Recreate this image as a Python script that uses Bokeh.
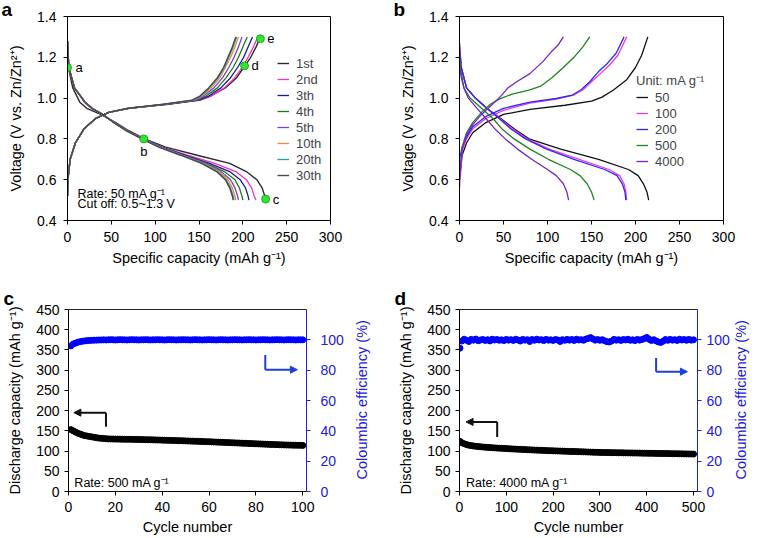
import math
from bokeh.plotting import figure
from bokeh.models import (Range1d, LinearAxis, Legend, LegendItem, Label, Arrow,
                          NormalHead, FixedTicker, Title, PrintfTickFormatter)
from bokeh.layouts import column, row
from bokeh.embed import file_html
from bokeh.resources import INLINE

FONT = "Liberation Sans"

# ---------------- Panel a data ----------------
cycles_a = ["1st", "2nd", "3th", "4th", "5th", "10th", "20th", "30th"]
colors_a = ["#2b2b2b", "#f032c8", "#1a1aa0", "#1e7a1e", "#7a3fd0", "#f5873a", "#1fa3a3", "#4a4a4a"]
dis_v_a = [1.28, 1.15, 1.05, 0.98, 0.95, 0.92, 0.88, 0.84, 0.80, 0.76, 0.72, 0.68, 0.64, 0.60, 0.56, 0.52, 0.50]
dis_cap_a = [
    [0, 1, 6, 14, 22, 38, 55, 70, 88, 112, 148, 185, 204, 216, 222, 225, 226],
    [0, 1.5, 8, 19, 27, 40, 54, 69, 87, 108, 137, 168, 192, 204, 210, 213, 215],
    [0, 1.5, 8, 20, 28, 40, 53, 68, 86, 107, 134, 162, 185, 197, 203, 206, 207],
    [0, 1.5, 8, 20, 28, 40, 53, 68, 86, 106, 132, 159, 179, 191, 196, 199, 200],
    [0, 1.5, 8, 20, 28, 40, 53, 68, 86, 106, 131, 157, 175, 186, 191, 194, 195],
    [0, 1.5, 8, 20, 28, 40, 53, 67, 85, 105, 130, 155, 173, 183, 188, 191, 192],
    [0, 1.5, 8, 20, 28, 40, 53, 67, 85, 105, 130, 154, 171, 181, 186, 189, 190],
    [0, 1.5, 8, 20, 28, 40, 53, 67, 85, 104, 129, 153, 170, 180, 185, 188, 189],
]
chg_v_a = [0.52, 0.60, 0.70, 0.78, 0.85, 0.90, 0.93, 0.95, 0.97, 0.99, 1.01, 1.05, 1.10, 1.15, 1.20, 1.25, 1.30]
chg_cap_a = [
    [0, 0.5, 3, 9, 19, 32, 47, 70, 115, 150, 163, 180, 193, 201, 209, 215, 220],
    [0, 0.5, 3, 9, 19, 32, 47, 70, 115, 152, 164, 179, 191, 199, 206, 212, 217],
    [0, 0.5, 3, 9, 19, 32, 47, 70, 114, 150, 161, 175, 186, 194, 201, 206, 211],
    [0, 0.5, 3, 9, 19, 32, 47, 70, 113, 148, 158, 171, 181, 189, 195, 200, 205],
    [0, 0.5, 3, 9, 19, 32, 47, 69, 112, 146, 155, 167, 177, 184, 190, 195, 199],
    [0, 0.5, 3, 9, 19, 32, 47, 69, 111, 144, 153, 164, 174, 180, 186, 191, 195],
    [0, 0.5, 3, 9, 19, 32, 47, 69, 110, 143, 152, 162, 172, 179, 184, 189, 193],
    [0, 0.5, 3, 9, 19, 32, 47, 69, 110, 142, 151, 161, 171, 178, 183, 188, 192],
]
marker_cap_a = [0, 87, 226, 202, 220]
marker_v_a = [1.15, 0.80, 0.505, 1.158, 1.291]
marker_lbl_a = ["a", "b", "c", "d", "e"]

# ---------------- Panel b data ----------------
rates_b = ["50", "100", "200", "500", "4000"]
colors_b = ["#111111", "#f038d8", "#2a2af0", "#1e861e", "#7526c8"]
b_dis_v = [
    [1.27, 1.15, 1.05, 1.00, 0.95, 0.90, 0.85, 0.80, 0.75, 0.70, 0.65, 0.62, 0.58, 0.54, 0.50],
    [1.25, 1.15, 1.05, 1.00, 0.95, 0.90, 0.85, 0.80, 0.75, 0.70, 0.65, 0.62, 0.58, 0.54, 0.50],
    [1.23, 1.15, 1.05, 1.00, 0.95, 0.90, 0.85, 0.80, 0.75, 0.70, 0.65, 0.62, 0.58, 0.54, 0.50],
    [1.21, 1.15, 1.05, 1.00, 0.95, 0.90, 0.85, 0.80, 0.75, 0.70, 0.65, 0.62, 0.58, 0.54, 0.50],
    [1.16, 1.10, 1.05, 1.00, 0.95, 0.90, 0.85, 0.80, 0.75, 0.70, 0.65, 0.62, 0.58, 0.54, 0.50],
]
b_dis_cap = [
    [0, 2, 8, 18, 31, 47, 62, 79, 115, 158, 192, 203, 209, 213, 215],
    [0, 2, 8, 18, 31, 46, 60, 77, 102, 136, 170, 182, 187, 189, 190],
    [0, 2, 8, 18, 31, 45, 58, 75, 99, 130, 165, 179, 185, 188, 189],
    [0, 1, 5, 12, 25, 38, 48, 62, 80, 101, 126, 137, 145, 150, 153],
    [0, 2, 5, 10, 20, 30, 40, 52, 66, 82, 100, 110, 118, 122, 124],
]
b_chg_cap = [
    [0, 3, 8, 15, 30, 50, 80, 120, 150, 162, 175, 190, 200, 207, 214],
    [0, 3, 8, 15, 30, 50, 80, 110, 130, 140, 150, 160, 170, 180, 190],
    [0, 3, 8, 15, 30, 50, 80, 110, 128, 138, 148, 158, 168, 178, 187],
    [0, 3, 8, 15, 25, 35, 45, 60, 80, 93, 105, 118, 130, 140, 148],
    [0, 3, 8, 15, 25, 35, 45, 55, 65, 80, 95, 105, 112, 118],
]
b_chg_v = [
    [0.60, 0.72, 0.78, 0.83, 0.88, 0.92, 0.945, 0.965, 0.985, 1.005, 1.04, 1.09, 1.15, 1.21, 1.30],
    [0.56, 0.74, 0.80, 0.85, 0.90, 0.94, 0.975, 0.995, 1.015, 1.04, 1.08, 1.12, 1.16, 1.21, 1.30],
    [0.70, 0.76, 0.81, 0.86, 0.91, 0.95, 0.98, 0.998, 1.015, 1.04, 1.08, 1.13, 1.17, 1.22, 1.30],
    [0.62, 0.76, 0.83, 0.88, 0.93, 0.97, 0.995, 1.02, 1.04, 1.06, 1.10, 1.15, 1.20, 1.25, 1.30],
    [0.60, 0.75, 0.82, 0.87, 0.92, 0.96, 1.0, 1.05, 1.08, 1.12, 1.18, 1.23, 1.26, 1.30],
]

# ---------------- Panel c data (500 mA/g, 100 cycles) ----------------
cycles_c = list(range(1, 101))
cap_c = [153, 150, 147, 144, 142, 140, 138, 137, 136, 135,
         134, 133, 132, 131.5, 131, 130.5, 130, 130, 129.8, 129.6,
         129.5, 129.4, 129.3, 129.2, 129.1, 129, 128.9, 128.8, 128.7, 128.5,
         128.4, 128.3, 128.1, 128, 127.8, 127.7, 127.5, 127.3, 127.2, 127,
         126.8, 126.6, 126.5, 126.3, 126.1, 125.9, 125.7, 125.5, 125.3, 125.1,
         124.9, 124.7, 124.5, 124.3, 124.1, 123.9, 123.6, 123.4, 123.2, 123,
         122.7, 122.5, 122.2, 122, 121.7, 121.5, 121.2, 121, 120.7, 120.5,
         120.2, 120, 119.7, 119.5, 119.2, 119, 118.7, 118.5, 118.2, 118,
         117.7, 117.5, 117.2, 117, 116.7, 116.5, 116.2, 116, 115.8, 115.6,
         115.4, 115.2, 115, 114.8, 114.7, 114.5, 114.4, 114.3, 114.2, 114]
ce_c = [96.0, 97.2, 97.9, 98.4, 98.8, 99.1, 99.3, 99.5, 99.6, 99.7,
        99.8, 99.8, 99.9, 99.9, 100.0, 99.9, 100.0, 100.1, 100.0, 99.9,
        100.0, 100.1, 100.0, 100.0, 99.9, 100.0, 100.1, 100.0, 100.0, 99.9,
        100.0, 100.0, 100.1, 100.0, 99.9, 100.0, 100.0, 100.1, 100.0, 100.0,
        99.9, 100.0, 100.1, 100.0, 100.0, 99.9, 100.0, 100.0, 100.1, 100.0,
        100.0, 99.9, 100.0, 100.1, 100.0, 100.0, 99.9, 100.0, 100.0, 100.1,
        100.0, 100.0, 99.9, 100.0, 100.1, 100.0, 100.0, 99.9, 100.0, 100.0,
        100.1, 100.0, 100.0, 99.9, 100.0, 100.0, 100.1, 100.0, 100.0, 99.9,
        100.0, 100.0, 100.1, 100.0, 100.0, 99.9, 100.0, 100.0, 100.1, 100.0,
        100.0, 99.9, 100.0, 100.1, 100.0, 100.0, 99.9, 100.0, 100.0, 100.0]

# ---------------- Panel d data (4000 mA/g, 500 cycles, every 5th cycle) ----------------
cycles_d = [1] + list(range(5, 501, 5))
cap_d = [124, 120.5, 118, 116, 114.5, 113.5, 112.5, 111.8, 111.2, 110.6,
         110, 109.5, 109, 108.6, 108.2, 107.8, 107.4, 107.1, 106.8, 106.5, 106.2,
         105.7, 105.4, 105.1, 104.8, 104.5, 104.2, 103.9, 103.6, 103.3, 103.0,
         102.8, 102.5, 102.3, 102.0, 101.8, 101.5, 101.3, 101.0, 100.8, 100.6,
         100.4, 100.2, 100.0, 99.8, 99.6, 99.4, 99.2, 99.0, 98.8, 98.6,
         98.4, 98.2, 98.0, 97.8, 97.6, 97.4, 97.2, 97.0, 96.8, 96.6,
         96.5, 96.4, 96.3, 96.2, 96.1, 96.0, 95.9, 95.8, 95.7, 95.6,
         95.5, 95.4, 95.3, 95.2, 95.1, 95.0, 94.9, 94.8, 94.7, 94.6,
         94.5, 94.4, 94.3, 94.2, 94.1, 94.0, 93.9, 93.8, 93.7, 93.6,
         93.5, 93.4, 93.3, 93.2, 93.1, 93.0, 92.9, 92.8, 92.7, 92.6]
ce_d = [94.5,
        99.2, 100.4, 99.7, 98.9, 100.3, 99.8, 100.5, 99.4, 99.9, 100.2,
        99.6, 100.1, 99.3, 100.4, 99.9, 100.2, 99.7, 100.0, 99.5, 100.3,
        99.8, 100.1, 99.6, 100.4, 99.9, 99.2, 100.3, 99.8, 100.1, 98.9,
        100.2, 99.7, 100.4, 99.9, 100.1, 99.5, 100.3, 99.8, 100.0, 99.6,
        100.2, 99.9, 98.9, 100.1, 99.7, 100.3, 99.8, 100.2, 99.6, 100.4,
        99.9, 100.1, 99.7, 100.5, 100.9, 101.5, 100.6, 99.8, 100.2, 99.7,
        100.1, 99.4, 98.8, 98.6, 99.2, 100.3, 99.8, 100.1, 99.6, 100.2,
        99.9, 100.4, 99.7, 100.0, 99.5, 100.3, 99.8, 100.2, 100.8, 101.6,
        100.4, 99.6, 100.1, 99.3, 98.6, 98.3, 99.1, 100.2, 99.7, 100.3,
        99.8, 100.1, 99.6, 100.4, 99.9, 100.2, 99.7, 100.3, 99.8, 100.0]

BLUE_AX = "#2020d8"


def style_axis(ax, color="black", standoff=10, lab_standoff=6):
    ax.axis_line_color = color
    ax.axis_line_width = 1
    ax.major_tick_line_color = color
    ax.minor_tick_line_color = None
    ax.major_tick_in = 0
    ax.major_tick_out = 4
    ax.major_label_text_font = FONT
    ax.major_label_text_font_size = "14px"
    ax.major_label_text_color = color
    ax.major_label_standoff = lab_standoff
    ax.axis_label_text_font = FONT
    ax.axis_label_text_font_size = "14.5px"
    ax.axis_label_text_font_style = "normal"
    ax.axis_label_text_color = color
    ax.axis_label_standoff = standoff


def base_fig(width, height, xr, yr, mb):
    p = figure(width=width, height=height, x_range=Range1d(*xr), y_range=Range1d(*yr),
               output_backend="svg", toolbar_location=None,
               min_border_left=mb[0], min_border_right=mb[1],
               min_border_top=mb[2], min_border_bottom=mb[3])
    p.xgrid.visible = False
    p.ygrid.visible = False
    p.background_fill_color = "white"
    p.border_fill_color = "white"
    return p


def panel_letter(p, letter, offset, standoff=0):
    p.add_layout(Title(text=letter, align="left", offset=offset, standoff=standoff,
                       text_font=FONT, text_font_size="19px", text_font_style="bold",
                       text_color="black"), "above")


def txt(p, x, y, s, size="12.5px", align="left", xo=0, yo=0, color="black"):
    p.add_layout(Label(x=x, y=y, text=s, text_font=FONT, text_font_size=size,
                       text_align=align, text_baseline="middle", x_offset=xo, y_offset=yo,
                       text_color=color))


# ================= Panel a =================
pa = base_fig(380, 270, (0, 300), (0.4, 1.4), (67, 50, 15, 50))
pa.outline_line_color = "black"
pa.outline_line_alpha = 1
items = []
for i, lbl in enumerate(cycles_a):
    w = 1.4 if i in (0, 7) else 1.3
    r = pa.line(dis_cap_a[i], dis_v_a, line_color=colors_a[i], line_width=w)
    pa.line(chg_cap_a[i], chg_v_a, line_color=colors_a[i], line_width=w)
    items.append(LegendItem(label=lbl, renderers=[r]))
pa.scatter(marker_cap_a, marker_v_a, size=8, fill_color="#2ee62e", line_color="#199019", line_width=0.8)
offs = [(8, 0, "left"), (0, -13, "center"), (7, 0, "left"), (7, 0, "left"), (7, 0, "left")]
for (cx, cy, s, (xo, yo, al)) in zip(marker_cap_a, marker_v_a, marker_lbl_a, offs):
    txt(pa, cx, cy, s, size="13px", align=al, xo=xo, yo=yo)
leg_a = Legend(items=items, location=(210, 37), background_fill_alpha=0, border_line_alpha=0,
               padding=0, margin=0, spacing=0, glyph_width=12, glyph_height=16, label_height=16,
               label_standoff=7, label_text_font=FONT, label_text_font_size="13px")
pa.add_layout(leg_a)
pa.xaxis.ticker = FixedTicker(ticks=[0, 50, 100, 150, 200, 250, 300])
pa.yaxis.ticker = FixedTicker(ticks=[0.4, 0.6, 0.8, 1.0, 1.2, 1.4])
pa.yaxis.formatter = PrintfTickFormatter(format="%.1f")
pa.xaxis.axis_label = "Specific capacity (mAh g⁻¹)"
pa.yaxis.axis_label = "Voltage (V vs. Zn/Zn²⁺)"
style_axis(pa.xaxis[0], standoff=5, lab_standoff=7)
style_axis(pa.yaxis[0], standoff=10, lab_standoff=7)
txt(pa, 11.4, 0.532, "Rate: 50 mA g⁻¹")
txt(pa, 11.4, 0.483, "Cut off: 0.5~1.3 V")
panel_letter(pa, "a", -66, standoff=-7)

# ================= Panel b =================
pb = base_fig(379, 270, (0, 300), (0.4, 1.4), (79, 36, 15, 50))
pb.outline_line_color = "black"
pb.outline_line_alpha = 1
items_b = []
for i, lbl in enumerate(rates_b):
    r = pb.line(b_dis_cap[i], b_dis_v[i], line_color=colors_b[i], line_width=1.3)
    pb.line(b_chg_cap[i], b_chg_v[i], line_color=colors_b[i], line_width=1.3)
    items_b.append(LegendItem(label=lbl, renderers=[r]))
leg_b = Legend(items=items_b, location=(177, 51), background_fill_alpha=0, border_line_alpha=0,
               padding=0, margin=0, spacing=0, glyph_width=12, glyph_height=16, label_height=16,
               label_standoff=7, label_text_font=FONT, label_text_font_size="13px",
               title="Unit: mA g⁻¹", title_text_font=FONT, title_text_font_size="13px",
               title_text_font_style="normal", title_standoff=0)
pb.add_layout(leg_b)
pb.xaxis.ticker = FixedTicker(ticks=[0, 50, 100, 150, 200, 250, 300])
pb.yaxis.ticker = FixedTicker(ticks=[0.4, 0.6, 0.8, 1.0, 1.2, 1.4])
pb.yaxis.formatter = PrintfTickFormatter(format="%.1f")
pb.xaxis.axis_label = "Specific capacity (mAh g⁻¹)"
pb.yaxis.axis_label = "Voltage (V vs. Zn/Zn²⁺)"
style_axis(pb.xaxis[0], standoff=5, lab_standoff=7)
style_axis(pb.yaxis[0], standoff=10, lab_standoff=7)
panel_letter(pb, "b", -66, standoff=-7)


# ================= Panels c, d =================
def cycle_panel(width, xr, mb, xticks, cyc, cap, ce, black_arrow, blue_arrow, rate_text, rate_x,
                letter, r_lab_standoff, r_standoff):
    p = base_fig(width, 267, xr, (0, 450), mb)
    p.outline_line_color = None
    p.extra_y_ranges = {"ce": Range1d(0, 120)}
    p.scatter(cyc, cap, size=6, fill_color="black", line_color="black")
    p.scatter(cyc, ce, size=6, fill_color="#0000ff", line_color="#0000ff", y_range_name="ce")
    p.xaxis.ticker = FixedTicker(ticks=xticks)
    p.yaxis.ticker = FixedTicker(ticks=list(range(0, 451, 50)))
    p.xaxis.axis_label = "Cycle number"
    p.yaxis.axis_label = "Discharge capacity (mAh g⁻¹)"
    style_axis(p.xaxis[0], standoff=4, lab_standoff=6)
    style_axis(p.yaxis[0], standoff=10, lab_standoff=5)
    rax = LinearAxis(y_range_name="ce", ticker=FixedTicker(ticks=[0, 20, 40, 60, 80, 100]),
                     axis_label="\u00a0\u00a0\u00a0Coloumbic efficiency (%)")
    style_axis(rax, color=BLUE_AX, standoff=r_standoff, lab_standoff=r_lab_standoff)
    rax.axis_label_orientation = math.pi / 2
    rax.axis_label_align = "start"
    p.add_layout(rax, "right")
    top = LinearAxis(ticker=FixedTicker(ticks=[]), major_tick_out=0, major_tick_in=0,
                     minor_tick_out=0, major_label_text_font_size="0px", axis_line_color="#222222")
    p.add_layout(top, "above")
    # arrows (black -> left axis, blue -> right axis)
    bx, by0, by1, bx_end = black_arrow
    p.add_layout(Arrow(end=None, x_start=bx, y_start=by0, x_end=bx, y_end=by1,
                       line_color="#111111", line_width=2))
    p.add_layout(Arrow(end=NormalHead(size=7, fill_color="#111111", line_color="#111111"),
                       x_start=bx, y_start=by1, x_end=bx_end, y_end=by1,
                       line_color="#111111", line_width=2))
    ux, uy0, uy1, ux_end = blue_arrow
    p.add_layout(Arrow(end=None, x_start=ux, y_start=uy0, x_end=ux, y_end=uy1,
                       line_color="#1e3ee0", line_width=2, y_range_name="ce"))
    p.add_layout(Arrow(end=NormalHead(size=7, fill_color="#1e3ee0", line_color="#1e3ee0"),
                       x_start=ux, y_start=uy1, x_end=ux_end, y_end=uy1,
                       line_color="#1e3ee0", line_width=2, y_range_name="ce"))
    txt(p, rate_x, 20, rate_text)
    panel_letter(p, letter, -65, standoff=2)
    return p


pc = cycle_panel(380, (0, 101.6), (68, 73, 39, 45), [0, 20, 40, 60, 80, 100],
                 cycles_c, cap_c, ce_c, (16, 160, 195, 2.3), (84, 90, 80.3, 97.7),
                 "Rate: 500 mA g⁻¹", 2.5, "c", 10, 15)
pd_ = cycle_panel(379, (0, 508.5), (79, 60, 39, 45), [0, 100, 200, 300, 400, 500],
                  cycles_d, cap_d, ce_d, (80.5, 135, 172, 14), (420, 88, 79, 487),
                  "Rate: 4000 mA g⁻¹", 14, "d", 5, 8)

layout = column(row(pa, pb, spacing=0), row(pc, pd_, spacing=0), spacing=0)
open("out.html", "w").write(file_html(layout, INLINE))
